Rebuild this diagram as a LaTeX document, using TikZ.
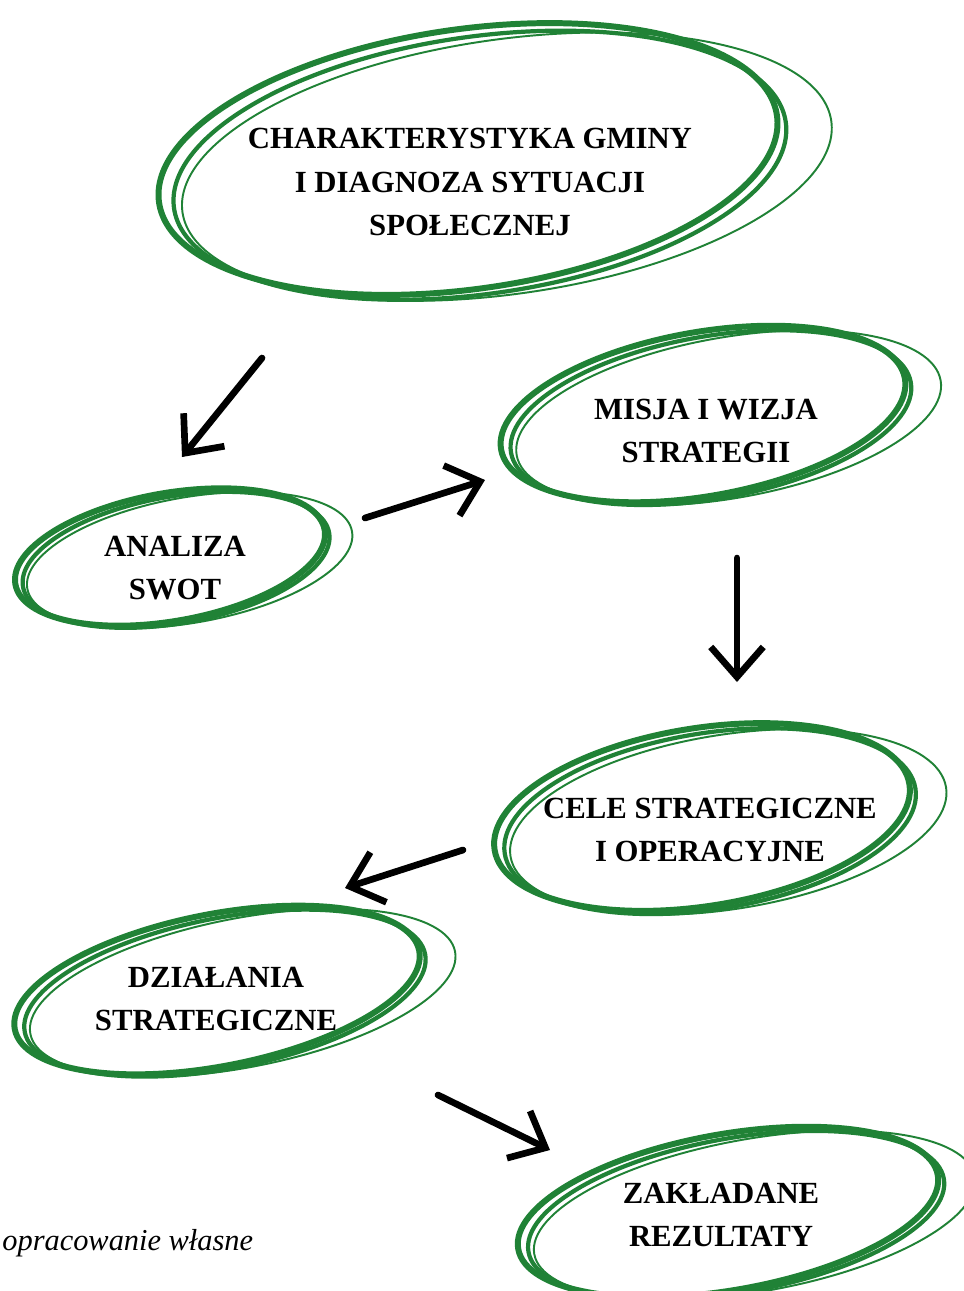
\documentclass[tikz,border=0pt]{standalone}
\usepackage{fontspec}
\setmainfont{Liberation Serif}
\usetikzlibrary{arrows.meta}
\definecolor{loopgreen}{RGB}{32,130,54}

\begin{document}
\begin{tikzpicture}[
	stage/.style={font=\bfseries\fontsize{17.5}{24.5}\selectfont, align=center, inner sep=0pt},
	scribble/.pic={
		\draw[loopgreen, line width=3.4pt] (0,0) circle (1);
		\draw[loopgreen, line width=2.4pt] (0.035,-0.06) circle (0.99);
		\draw[loopgreen, line width=1.1pt] (0.12,-0.1) ellipse (1.05 and 0.98);
	},
	arrow/.style={-{Straight Barb[length=6mm, width=10.5mm]}, line width=3.8pt, line cap=round, black}
	]
	\useasboundingbox (0,0) rectangle (19.28,-25.82);

	\node[stage] (char) at (9.4,-3.64) {CHARAKTERYSTYKA GMINY\\ I DIAGNOZA SYTUACJI\\ SPOŁECZNEJ};
	\node[stage] (misja) at (14.12,-8.62) {MISJA I WIZJA\\ STRATEGII};
	\node[stage] (swot) at (3.5,-11.36) {ANALIZA\\ SWOT};
	\node[stage] (cele) at (14.2,-16.6) {CELE STRATEGICZNE\\ I OPERACYJNE};
	\node[stage] (dzial) at (4.32,-19.98) {DZIAŁANIA\\ STRATEGICZNE};
	\node[stage] (rezult) at (14.42,-24.3) {ZAKŁADANE\\ REZULTATY};
	\node[font=\itshape\fontsize{17.3}{20}\selectfont, anchor=base west, inner sep=0pt] (source) at (0.04,-25.0) {opracowanie własne};

	\pic[rotate=8, xscale=6.24, yscale=2.6] at ([xshift=-0.4mm, yshift=4.6mm]char.center) {scribble};
	\pic[rotate=10, xscale=4.1, yscale=1.64] at ([xshift=-0.6mm, yshift=3.4mm]misja.center) {scribble};
	\pic[rotate=10, xscale=3.14, yscale=1.28] at ([xshift=-1mm, yshift=2.2mm]swot.center) {scribble};
	\pic[rotate=9, xscale=4.2, yscale=1.78] at ([xshift=-1.6mm, yshift=2.6mm]cele.center) {scribble};
	\pic[rotate=11, xscale=4.12, yscale=1.52] at ([xshift=0.2mm, yshift=1.8mm]dzial.center) {scribble};
	\pic[rotate=10, xscale=4.26, yscale=1.56] at ([xshift=1.4mm, yshift=0.6mm]rezult.center) {scribble};

	\coordinate (a1) at (5.24,-7.16);
	\coordinate (b1) at (3.64,-9.14);
	\coordinate (a2) at (7.3,-10.36);
	\coordinate (b2) at (9.7,-9.6);
	\coordinate (a3) at (14.74,-11.16);
	\coordinate (b3) at (14.74,-13.64);
	\coordinate (a4) at (9.26,-17.0);
	\coordinate (b4) at (6.9,-17.76);
	\coordinate (a5) at (8.76,-21.9);
	\coordinate (b5) at (11.0,-23.0);
	\draw[arrow] (a1) -- (b1);
	\draw[arrow] (a2) -- (b2);
	\draw[arrow] (a3) -- (b3);
	\draw[arrow] (a4) -- (b4);
	\draw[arrow] (a5) -- (b5);
\end{tikzpicture}
\end{document}
